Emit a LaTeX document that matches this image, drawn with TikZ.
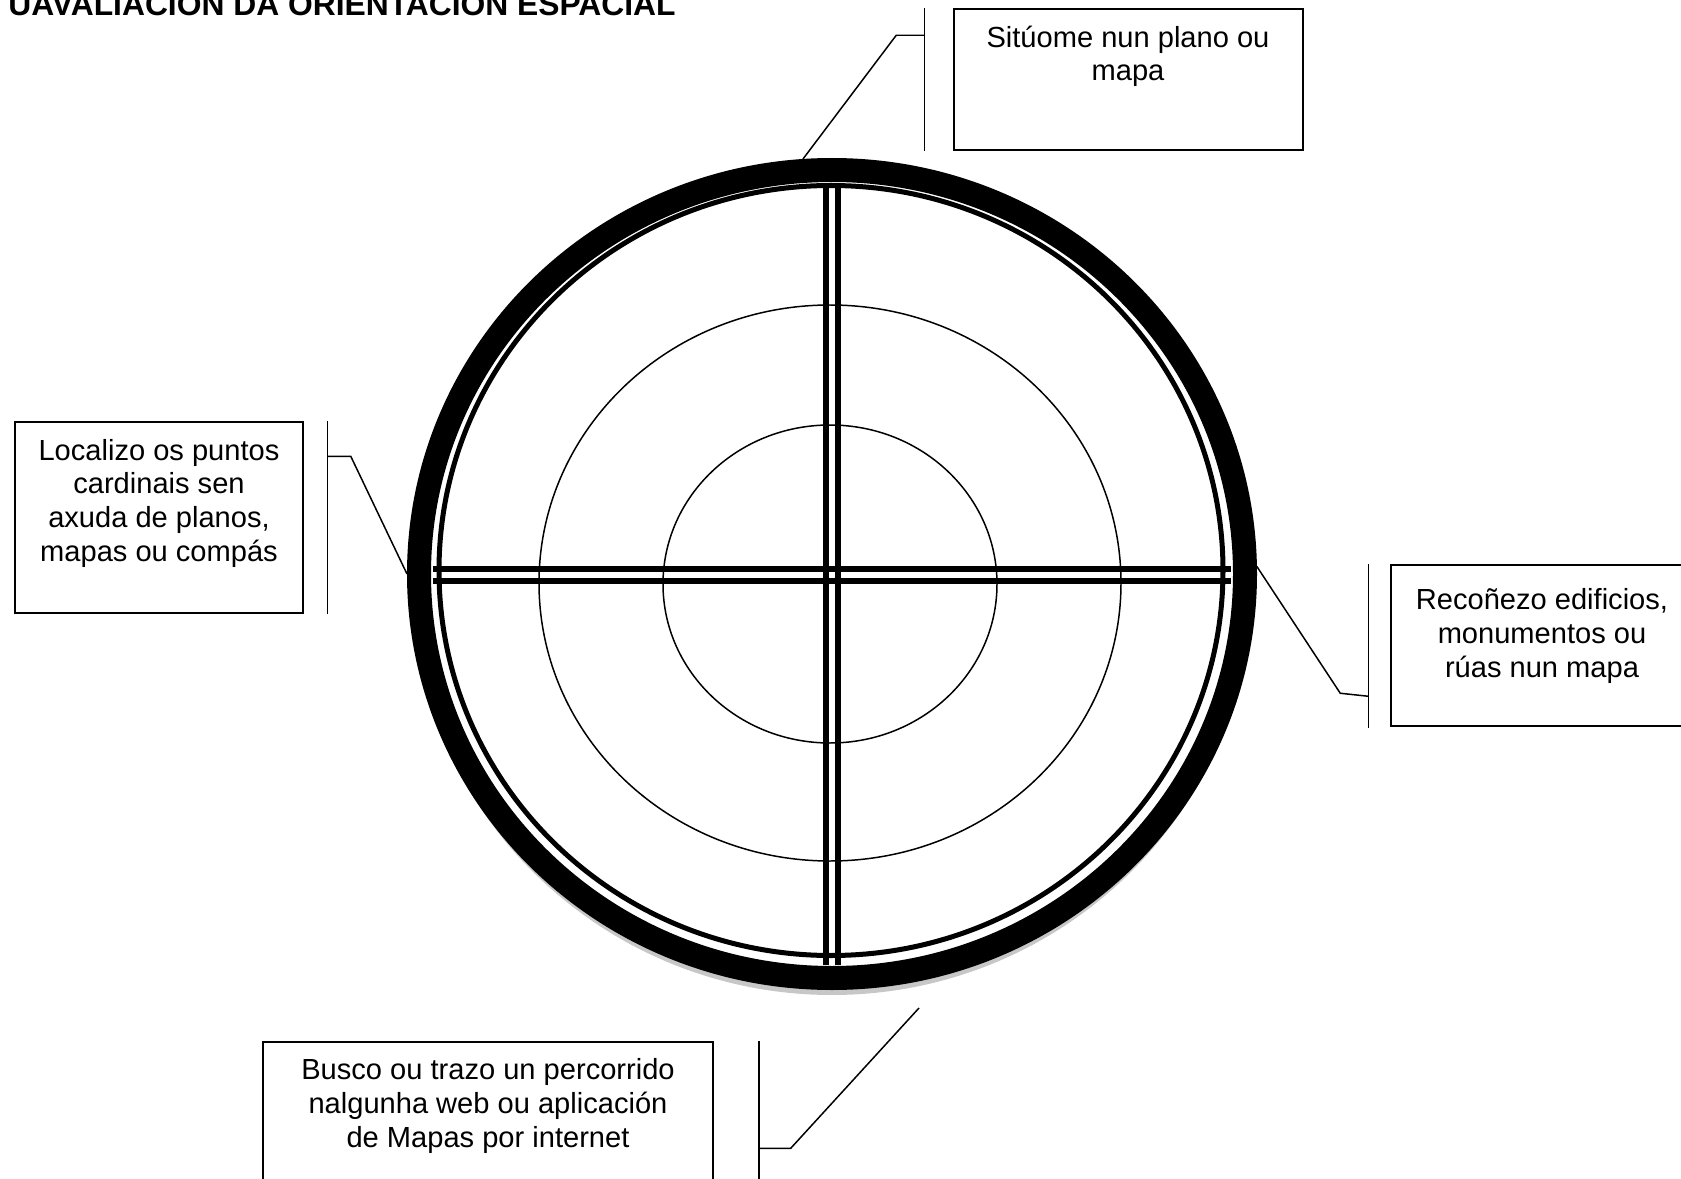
\documentclass[tikz,border=0pt]{standalone}
\usepackage{fontspec}
\setmainfont{Liberation Sans}
\usetikzlibrary{calc,fit,shapes.geometric}
\tikzset{
  callbox/.style  = {draw, line width=0.85pt, inner sep=0pt},
  txt/.style      = {font=\fontsize{16.55}{19.1}\selectfont, align=center,
                     anchor=base, inner sep=0pt},
  lead/.style     = {line width=0.85pt},
  bar/.style      = {line width=3.4pt},
  ringthin/.style = {line width=0.85pt},
}

\begin{document}
\begin{tikzpicture}[x=0.02cm, y=-0.02cm]
  \useasboundingbox (0,0) rectangle (1681,1179);
  \clip (0,0) rectangle (1681,1179);

  \node[anchor=base east, inner sep=0pt, font=\bfseries\fontsize{18.1}{21}\selectfont]
    (title) at (676,15.6) {UAVALIACIÓN DA ORIENTACIÓN ESPACIAL};

  % target
  \fill[black!22] (832,579) ellipse (421 and 416);
  \node[ellipse, draw, fill=white, line width=13.66pt, inner sep=0pt,
        minimum width=826*0.02cm, minimum height=808*0.02cm] (ring) at (832,574) {};
  \draw[line width=2.85pt] (831,570.5) ellipse (392 and 385);
  \draw[ringthin] (830,583) ellipse (291 and 278);
  \draw[ringthin] (830,584) ellipse (167 and 159);
  \foreach \d in {-6,6} {
    \draw[bar] (832+\d,184) -- (832+\d,965);
    \draw[bar] (433,574.75+\d) -- (1231,574.75+\d);
  }

  % callouts (base = last line)
  \node[callbox, fit={(954,9) (1303,150)}] (mapbox) {};
  \node[txt] at (1128,81) {Sitúome nun plano ou\\mapa};
  \draw[lead] ($(mapbox.north west)+(-29,0)$) -- ($(mapbox.south west)+(-29,0)$);
  \draw[lead] ($(mapbox.north west)+(-29,27)$) -- ++(-28,0) -- (ring.94);

  \node[callbox, fit={(15,422) (303,613)}] (cardbox) {};
  \node[txt] at (159,561) {Localizo os puntos\\cardinais sen\\axuda de planos,\\mapas ou compás};
  \draw[lead] ($(cardbox.north east)+(24,0)$) -- ($(cardbox.south east)+(24,0)$);
  \draw[lead] ($(cardbox.north east)+(24,35)$) -- ++(23,0) -- (ring.180);

  \node[callbox, fit={(1391,565) (1693,726)}] (monbox) {};
  \node[txt] at (1542,677) {Recoñezo edificios,\\monumentos ou\\rúas nun mapa};
  \draw[lead] ($(monbox.north west)+(-22,0)$) -- ($(monbox.south west)+(-22,1)$);
  \draw[lead] ($(monbox.north west)+(-22,132)$) -- ++(-28,-3) -- (ring.1);

  \coordinate (routetip) at (919,1008);
  \node[callbox, fit={(263,1042) (713,1200)}] (routebox) {};
  \node[txt] at (488,1147) {Busco ou trazo un percorrido\\nalgunha web ou aplicación\\de Mapas por internet};
  \draw[lead] ($(routebox.north east)+(45,0)$) -- ($(routebox.south east)+(45,0)$);
  \draw[lead] ($(routebox.north east)+(45,107)$) -- ++(32,0) -- (routetip);
\end{tikzpicture}
\end{document}
